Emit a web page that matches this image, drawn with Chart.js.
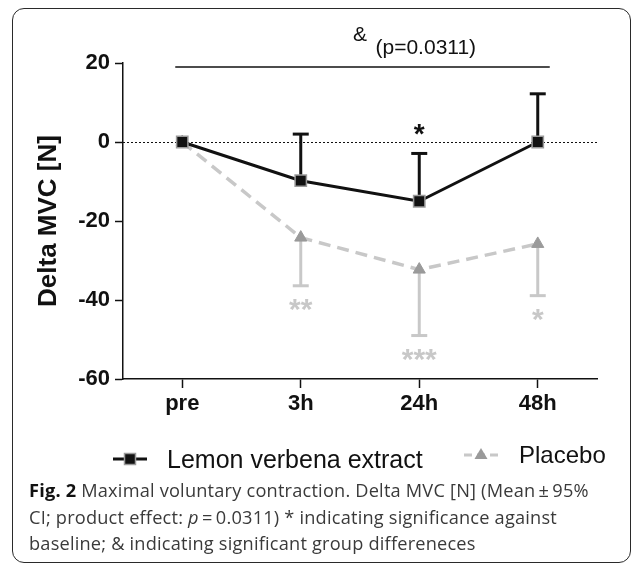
<!DOCTYPE html>
<html>
<head>
<meta charset="utf-8">
<script src="https://cdn.jsdelivr.net/npm/chart.js@4"></script>
<style>
  html, body { margin: 0; padding: 0; background: #fff; width: 634px; height: 565px; overflow: hidden; }
  #frame { position: absolute; left: 12px; top: 8px; width: 617px; height: 553px; border: 1.6px solid #2a2a2a; border-radius: 12px; }
  #c { position: absolute; left: 0; top: 0; }
  #cap { position: absolute; left: 29px; top: 477px; width: 600px; font-family: "Open Sans", sans-serif; font-size: 18.2px; letter-spacing: 0.2px; line-height: 26.7px; color: #3a3a3a; white-space: nowrap; }
  #cap b { color: #111; }
</style>
</head>
<body>
<div id="frame"></div>
<canvas id="c" width="634" height="480"></canvas>
<div id="cap"><b>Fig. 2</b> Maximal voluntary contraction. Delta MVC [N] (Mean&#8201;±&#8201;95%<br>CI; product effect: <i>p</i>&#8201;=&#8201;0.0311) * indicating significance against<br>baseline; &amp; indicating significant group differeneces</div>
<script>
// ---- data ----
const categories = ['pre', '3h', '24h', '48h'];
const lemonLabel = 'Lemon verbena extract';
const placeboLabel = 'Placebo';
const lemonMean = [0, -9.8, -15.0, 0];
const lemonUpperCI = [0, 2.0, -2.9, 12.2];
const placeboMean = [0, -24.2, -32.3, -25.8];
const placeboLowerCI = [0, -36.4, -49.0, -38.9];
const lemonStars = ['', '', '*', ''];
const placeboStars = ['', '**', '***', '*'];
const yTicks = [20, 0, -20, -40, -60];
const groupDiffText = '(p=0.0311)';
const groupDiffSymbol = '&';

const FONT = '"Liberation Sans", Arial, Helvetica, sans-serif';
const BLACK = '#111111';
const LGRAY = '#c8c8c8';
const MGRAY = '#9a9a9a';

function drawStar(ctx, text, x, cy, size, color) {
  ctx.save();
  ctx.font = 'bold ' + size + 'px ' + FONT;
  ctx.fillStyle = color;
  ctx.textAlign = 'center';
  ctx.textBaseline = 'alphabetic';
  const m = ctx.measureText(text);
  const A = m.actualBoundingBoxAscent, D = m.actualBoundingBoxDescent;
  ctx.fillText(text, x, cy + (A - D) / 2);
  ctx.restore();
}

const errorBarPlugin = {
  id: 'errorBars',
  beforeDatasetsDraw(chart) {
    const ctx = chart.ctx;
    const xs = chart.scales.x, ys = chart.scales.y;
    // zero reference dotted line
    ctx.save();
    ctx.strokeStyle = BLACK;
    ctx.lineWidth = 1;
    ctx.setLineDash([2, 2]);
    const y0 = Math.round(ys.getPixelForValue(0)) + 0.5;
    ctx.beginPath();
    ctx.moveTo(chart.chartArea.left, y0);
    ctx.lineTo(chart.chartArea.right, y0);
    ctx.stroke();
    ctx.restore();

    const sets = [
      { mean: placeboMean, bound: placeboLowerCI, color: LGRAY, width: 3 },
      { mean: lemonMean, bound: lemonUpperCI, color: BLACK, width: 3 }
    ];
    sets.forEach(s => {
      ctx.save();
      ctx.strokeStyle = s.color;
      ctx.lineWidth = s.width;
      s.mean.forEach((m, i) => {
        if (s.bound[i] === m) return;
        const x = xs.getPixelForValue(i);
        const y1 = ys.getPixelForValue(m);
        const y2 = ys.getPixelForValue(s.bound[i]);
        ctx.beginPath();
        ctx.moveTo(x, y1);
        ctx.lineTo(x, y2);
        ctx.stroke();
        ctx.beginPath();
        ctx.moveTo(x - 8, y2);
        ctx.lineTo(x + 8, y2);
        ctx.stroke();
      });
      ctx.restore();
    });
  },
  afterDatasetsDraw(chart) {
    const ctx = chart.ctx;
    const xs = chart.scales.x, ys = chart.scales.y;
    // significance stars
    lemonStars.forEach((t, i) => {
      if (!t) return;
      drawStar(ctx, t, xs.getPixelForValue(i), ys.getPixelForValue(0) - 13, 28, BLACK);
    });
    placeboStars.forEach((t, i) => {
      if (!t) return;
      drawStar(ctx, t, xs.getPixelForValue(i), ys.getPixelForValue(placeboLowerCI[i]) + 19, 30, LGRAY);
    });
    // group difference bracket
    const yl = ys.getPixelForValue(19);
    const xa = xs.getPixelForValue(0) - 7;
    const xb = xs.getPixelForValue(categories.length - 1) + 12;
    ctx.save();
    ctx.strokeStyle = BLACK;
    ctx.lineWidth = 1.5;
    ctx.beginPath();
    ctx.moveTo(xa, yl);
    ctx.lineTo(xb, yl);
    ctx.stroke();
    const xc = (xa + xb) / 2;
    ctx.fillStyle = BLACK;
    ctx.font = '21px ' + FONT;
    ctx.textBaseline = 'middle';
    ctx.textAlign = 'right';
    ctx.fillText(groupDiffSymbol, xc + 4.5, yl - 32);
    ctx.textAlign = 'left';
    ctx.fillText(groupDiffText, xc + 13, yl - 19);
    ctx.restore();

    // legend
    ctx.save();
    // lemon
    ctx.strokeStyle = BLACK;
    ctx.lineWidth = 3;
    ctx.beginPath();
    ctx.moveTo(113, 459); ctx.lineTo(147, 459);
    ctx.stroke();
    ctx.fillStyle = BLACK;
    ctx.strokeStyle = MGRAY;
    ctx.lineWidth = 1.5;
    ctx.fillRect(124.5, 453.5, 11, 11);
    ctx.strokeRect(124.5, 453.5, 11, 11);
    ctx.font = '25px ' + FONT;
    ctx.textAlign = 'left';
    ctx.textBaseline = 'alphabetic';
    ctx.fillStyle = BLACK;
    ctx.fillText(chart.data.datasets[0].label, 167, 468);
    // placebo
    ctx.strokeStyle = LGRAY;
    ctx.lineWidth = 3;
    ctx.setLineDash([8, 5]);
    ctx.beginPath();
    ctx.moveTo(464, 455); ctx.lineTo(502, 455);
    ctx.stroke();
    ctx.setLineDash([]);
    ctx.fillStyle = MGRAY;
    ctx.beginPath();
    ctx.moveTo(481, 448); ctx.lineTo(487.5, 459); ctx.lineTo(474.5, 459); ctx.closePath();
    ctx.fill();
    ctx.fillStyle = BLACK;
    ctx.font = '24px ' + FONT;
    ctx.fillText(chart.data.datasets[1].label, 519, 463);
    ctx.restore();
  }
};

new Chart(document.getElementById('c'), {
  type: 'line',
  data: {
    labels: categories,
    datasets: [
      {
        label: lemonLabel,
        data: lemonMean,
        borderColor: BLACK,
        borderWidth: 3,
        tension: 0,
        pointStyle: 'rect',
        pointRadius: 8,
        pointHoverRadius: 8,
        pointBackgroundColor: BLACK,
        pointBorderColor: MGRAY,
        pointBorderWidth: 1.5
      },
      {
        label: placeboLabel,
        data: placeboMean,
        borderColor: LGRAY,
        borderWidth: 3.5,
        borderDash: [12, 7],
        tension: 0,
        pointStyle: 'triangle',
        pointRadius: 7,
        pointHoverRadius: 7,
        pointBackgroundColor: MGRAY,
        pointBorderColor: MGRAY,
        pointBorderWidth: 1
      }
    ]
  },
  options: {
    responsive: false,
    animation: false,
    devicePixelRatio: 1,
    layout: { padding: { top: 63, right: 37, bottom: 61, left: 0 } },
    plugins: { legend: { display: false }, tooltip: { enabled: false } },
    scales: {
      x: {
        offset: true,
        afterFit: s => { s.height = 40; },
        grid: { display: true, drawOnChartArea: false, drawTicks: true, tickLength: 9, tickWidth: 1.5, tickColor: BLACK, offset: false },
        border: { display: true, color: BLACK, width: 1.5 },
        ticks: { color: BLACK, font: { family: FONT, size: 22, weight: 'bold' }, padding: 3, maxRotation: 0 }
      },
      y: {
        min: -60,
        max: 20,
        afterFit: s => { s.width = 123; },
        afterBuildTicks: s => { s.ticks = yTicks.map(v => ({ value: v })); },
        grid: { display: true, drawOnChartArea: false, drawTicks: true, tickLength: 8, tickWidth: 1.5, tickColor: BLACK },
        border: { display: true, color: BLACK, width: 1.5 },
        ticks: { color: BLACK, font: { family: FONT, size: 22, weight: 'bold' }, padding: 5 },
        title: { display: true, text: 'Delta MVC [N]', color: BLACK, font: { family: FONT, size: 26, weight: 'bold' }, padding: { top: 33, bottom: 0 } }
      }
    }
  },
  plugins: [errorBarPlugin]
});
</script>
</body>
</html>
